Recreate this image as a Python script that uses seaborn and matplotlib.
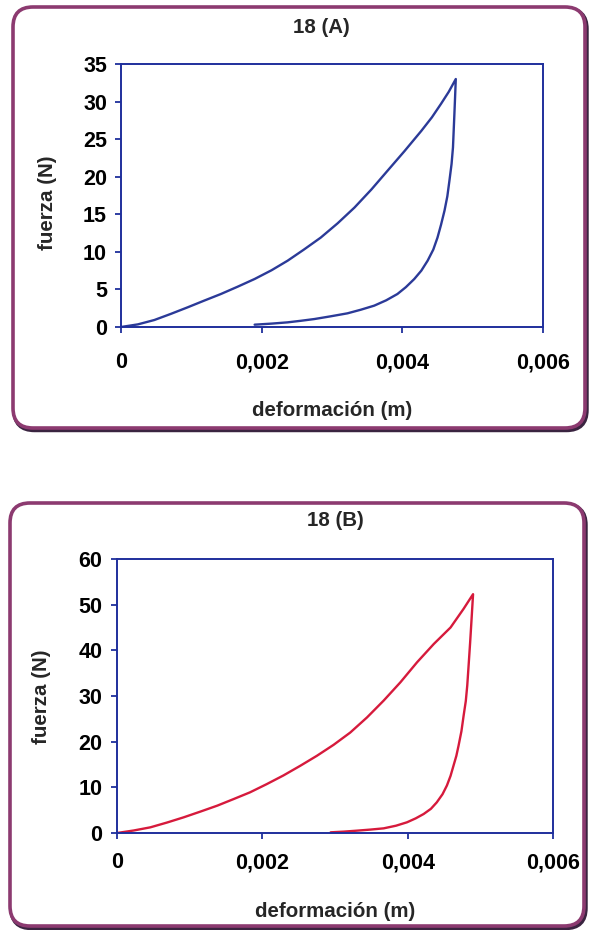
import numpy as np
import pandas as pd
import matplotlib
matplotlib.use("Agg")
import matplotlib.pyplot as plt
from matplotlib.patches import FancyBboxPatch
from matplotlib.ticker import FuncFormatter
import seaborn as sns

# ---------------- data ----------------
# Panel 18 (A): loading then unloading path
a_load_x = [0.0, 0.00024, 0.000474, 0.00071, 0.000948, 0.00118, 0.00142, 0.00166,
            0.0019, 0.00214, 0.00237, 0.0026, 0.00284, 0.00308, 0.00332, 0.00356,
            0.00379, 0.00403, 0.00427, 0.00442, 0.00455, 0.00466, 0.00476]
a_load_f = [0.0, 0.35, 0.93, 1.75, 2.62, 3.5, 4.39, 5.37,
            6.39, 7.55, 8.83, 10.3, 11.9, 13.8, 15.9, 18.3,
            20.8, 23.4, 26.1, 27.9, 29.7, 31.3, 33.0]
a_unload_x = [0.00476, 0.00475, 0.00474, 0.00473, 0.00472, 0.0047, 0.00467, 0.00464,
              0.0046, 0.00455, 0.0045, 0.00444, 0.00436, 0.00427, 0.00417, 0.00405,
              0.00393, 0.00377, 0.0036, 0.00341, 0.00322, 0.00298, 0.00275, 0.00256,
              0.00237, 0.00214, 0.0019]
a_unload_f = [33.0, 30.6, 28.3, 26.1, 23.9, 21.7, 19.5, 17.4,
              15.5, 13.6, 11.9, 10.3, 8.83, 7.5, 6.39, 5.3,
              4.39, 3.55, 2.84, 2.3, 1.82, 1.42, 1.06, 0.83,
              0.62, 0.45, 0.31]

# Panel 18 (B)
b_load_x = [0.0, 0.00023, 0.000459, 0.00069, 0.000917, 0.00115, 0.00138, 0.0016,
            0.00183, 0.00206, 0.00229, 0.00252, 0.00275, 0.00298, 0.00321, 0.00344,
            0.00367, 0.0039, 0.00413, 0.00436, 0.00459, 0.00477, 0.0049]
b_load_f = [0.0, 0.55, 1.24, 2.3, 3.43, 4.7, 5.99, 7.4,
            8.9, 10.7, 12.6, 14.7, 16.9, 19.3, 22.0, 25.3,
            29.0, 33.0, 37.4, 41.4, 45.0, 49.1, 52.3]
b_unload_x = [0.0049, 0.00488, 0.00486, 0.00484, 0.00482, 0.0048, 0.00477, 0.00474,
              0.0047, 0.00467, 0.00463, 0.00459, 0.00454, 0.00448, 0.0044, 0.00432,
              0.00422, 0.00411, 0.00399, 0.00384, 0.00367, 0.00349, 0.0033, 0.00312,
              0.00294]
b_unload_f = [52.3, 47.0, 41.8, 37.0, 32.3, 28.9, 25.7, 22.3,
              19.1, 16.9, 14.7, 12.5, 10.4, 8.5, 6.7, 5.3,
              4.16, 3.2, 2.34, 1.6, 1.02, 0.75, 0.51, 0.3,
              0.15]

titles = ["18 (A)", "18 (B)"]
x_label = "deformación (m)"
y_label = "fuerza (N)"
x_ticks = [0, 0.002, 0.004, 0.006]
y_ticks_a = [0, 5, 10, 15, 20, 25, 30, 35]
y_ticks_b = [0, 10, 20, 30, 40, 50, 60]

# ---------------- style ----------------
sns.set_style("white")
plt.rcParams["font.family"] = ["Liberation Sans", "DejaVu Sans"]
plt.rcParams["font.weight"] = "bold"

frame_col = "#1f2f9c"
box_col = "#8c3a70"
shadow_col = "#3a2440"
TICK_FS = 15.5
LAB_FS = 14.8

fig = plt.figure(figsize=(5.9, 9.3), dpi=100)
fig.patch.set_facecolor("white")

# overlay for rounded frames (pixel coordinates)
bg = fig.add_axes([0, 0, 1, 1], zorder=0)
bg.set_xlim(0, 590)
bg.set_ylim(930, 0)
bg.axis("off")
for (x0, y0, x1, y1) in [(13, 7, 585, 428), (10, 503, 584, 926)]:
    sh = FancyBboxPatch((x0 + 1.5, y0 + 2), x1 - x0, y1 - y0,
                        boxstyle="round,pad=0,rounding_size=20",
                        fc="none", ec=shadow_col, lw=3.2)
    bg.add_patch(sh)
    bx = FancyBboxPatch((x0, y0), x1 - x0, y1 - y0,
                        boxstyle="round,pad=0,rounding_size=20",
                        fc="white", ec=box_col, lw=2.6)
    bg.add_patch(bx)


def fmt(v, pos):
    if abs(v) < 1e-12:
        return "0"
    return f"{v:.3f}".replace(".", ",")


def make_panel(rect, lx, lf, ux, uf, color, yticks, title, title_x, title_y,
               xpad, ypad, ylab_x, ylab_y, xlab_y):
    ax = fig.add_axes(rect, zorder=2)
    ax.patch.set_alpha(0)
    df = pd.DataFrame({
        "x": list(lx) + list(ux)[1:],
        "f": list(lf) + list(uf)[1:],
    })
    sns.lineplot(data=df, x="x", y="f", sort=False, estimator=None,
                 color=color, lw=1.7, ax=ax)
    ax.set_xlim(0, 0.006)
    ax.set_ylim(0, yticks[-1])
    ax.set_xticks(x_ticks)
    ax.set_yticks(yticks)
    ax.xaxis.set_major_formatter(FuncFormatter(fmt))
    for s in ax.spines.values():
        s.set_visible(True)
        s.set_color(frame_col)
        s.set_linewidth(1.4)
    ax.tick_params(axis="x", direction="out", length=4, width=1.3,
                   color=frame_col, labelsize=TICK_FS, pad=xpad, bottom=True)
    ax.tick_params(axis="y", direction="out", length=4, width=1.3,
                   color=frame_col, labelsize=TICK_FS, pad=ypad, left=True)
    for t in ax.get_xticklabels() + ax.get_yticklabels():
        t.set_fontweight("bold")
        t.set_color("black")
    ax.set_xlabel(x_label, fontsize=LAB_FS, fontweight="bold")
    ax.set_ylabel(y_label, fontsize=LAB_FS, fontweight="bold")
    ax.xaxis.set_label_coords(0.5, xlab_y)
    ax.xaxis.label.set_verticalalignment("center")
    ax.yaxis.set_label_coords(ylab_x, ylab_y)
    ax.yaxis.label.set_verticalalignment("center")
    ax.text(title_x, title_y, title,
            transform=ax.transAxes, ha="center", va="center",
            fontsize=LAB_FS, fontweight="bold")
    return ax


make_panel([121 / 590, 1 - 327 / 930, 422 / 590, 263 / 930],
           a_load_x, a_load_f, a_unload_x, a_unload_f, "#2b3a98",
           y_ticks_a, titles[0], 0.474, 1.139, 14, 6, -0.175, 0.471, -0.316)
make_panel([117 / 590, 1 - 833 / 930, 436 / 590, 274 / 930],
           b_load_x, b_load_f, b_unload_x, b_unload_f, "#d61a3c",
           y_ticks_b, titles[1], 0.5, 1.142, 10, 6.5, -0.174, 0.496, -0.288)

fig.savefig("out.png", dpi=100, facecolor="white")
